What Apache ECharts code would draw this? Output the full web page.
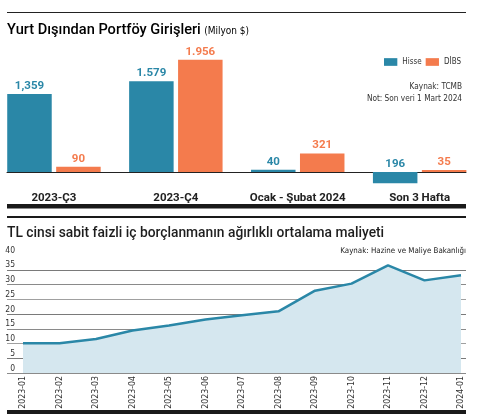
<!DOCTYPE html>
<html>
<head>
<meta charset="utf-8">
<script src="https://cdn.jsdelivr.net/npm/echarts@6/dist/echarts.min.js"></script>
<style>
html,body{margin:0;padding:0;background:#fff;}
#c{width:480px;height:420px;}
</style>
</head>
<body>
<div id="c"></div>
<script>
// ---- Data: top chart ----
var barCategories = ['2023-Ç3', '2023-Ç4', 'Ocak - Şubat 2024', 'Son 3 Hafta'];
var hisseValues = [1359, 1579, 40, -196];
var dibsValues = [90, 1956, 321, 35];
var hisseLabels = ['1,359', '1.579', '40', '196'];
var dibsLabels = ['90', '1.956', '321', '35'];
// ---- Data: bottom chart ----
var months = ['2023-01','2023-02','2023-03','2023-04','2023-05','2023-06','2023-07','2023-08','2023-09','2023-10','2023-11','2023-12','2024-01'];
var costValues = [10.1, 10.1, 11.5, 14.4, 16.1, 18.1, 19.6, 20.9, 27.9, 30.3, 36.5, 31.4, 33.1];
var costTicks = [0, 5, 10, 15, 20, 25, 30, 35, 40];

var BLUE = '#2a87a7';
var ORANGE = '#f47b4d';
var COND = '"DejaVu Sans Condensed", sans-serif';
var BOLD = 'Roboto, "DejaVu Sans Condensed", sans-serif';

var chart = echarts.init(document.getElementById('c'), null, {renderer: 'canvas'});

var option = {
  backgroundColor: '#ffffff',
  textStyle: {fontFamily: COND},
  animation: false,
  legend: {
    data: ['Hisse', 'DİBS'],
    right: 14,
    top: 53,
    itemWidth: 13.3,
    itemHeight: 7.7,
    itemGap: 4,
    icon: 'rect',
    textStyle: {fontFamily: COND, fontSize: 8, color: '#333'}
  },
  grid: [
    {left: -7, width: 487.6, top: 45.7, height: 143.5, outerBoundsMode: 'none'},
    {left: 7, right: 14, top: 45.7, height: 143.5, outerBoundsMode: 'none'},
    {left: 23, right: 19, top: 255, height: 118, outerBoundsMode: 'none'},
    {left: 7, right: 14, top: 255, height: 118, outerBoundsMode: 'none'}
  ],
  xAxis: [
    {
      type: 'category', gridIndex: 0, data: barCategories,
      axisLine: {show: false}, axisTick: {show: false},
      axisLabel: {fontFamily: BOLD, fontWeight: 'bold', fontSize: 11.5, color: '#222', margin: 3, interval: 0}
    },
    {
      type: 'value', gridIndex: 1, min: 0, max: 1,
      axisLine: {show: true, onZero: true, lineStyle: {color: '#222', width: 1}},
      axisTick: {show: false}, axisLabel: {show: false}, splitLine: {show: false}
    },
    {
      type: 'category', gridIndex: 2, data: months, boundaryGap: false,
      axisLine: {show: false}, axisTick: {show: false},
      axisLabel: {fontFamily: COND, fontSize: 8.7, color: '#333', rotate: 90, margin: 3, interval: 0}
    },
    {
      type: 'value', gridIndex: 3, min: 0, max: 1, show: false
    }
  ],
  yAxis: [
    {type: 'value', gridIndex: 0, min: -300, max: 2200, show: false},
    {type: 'value', gridIndex: 1, min: -300, max: 2200, show: false},
    {type: 'value', gridIndex: 2, min: 0, max: 40, interval: 5, show: false},
    {
      type: 'value', gridIndex: 3, min: costTicks[0], max: costTicks[costTicks.length - 1], interval: 5,
      axisLine: {show: false}, axisTick: {show: false},
      splitLine: {show: true, showMaxLine: false, lineStyle: {color: ['#8a8a8a', '#7a7a7a', '#a0a0a0'], width: 1}},
      axisLabel: {inside: true, align: 'right', verticalAlign: 'bottom', margin: 8, fontFamily: COND, fontSize: 8.5, color: '#333'}
    }
  ],
  series: [
    {
      name: 'Hisse', type: 'bar', xAxisIndex: 0, yAxisIndex: 0,
      data: hisseValues, barWidth: 44.5, barGap: '10%',
      itemStyle: {color: BLUE},
      label: {
        show: true, position: 'top', distance: 2,
        fontFamily: BOLD, fontWeight: 'bold', fontSize: 11.5, color: BLUE,
        formatter: function (p) { return hisseLabels[p.dataIndex]; }
      }
    },
    {
      name: 'DİBS', type: 'bar', xAxisIndex: 0, yAxisIndex: 0,
      data: dibsValues, barWidth: 44.5, barGap: '10%',
      itemStyle: {color: ORANGE},
      label: {
        show: true, position: 'top', distance: 2,
        fontFamily: BOLD, fontWeight: 'bold', fontSize: 11.5, color: ORANGE,
        formatter: function (p) { return dibsLabels[p.dataIndex]; }
      }
    },
    {
      name: 'Maliyet', type: 'line', xAxisIndex: 2, yAxisIndex: 2,
      data: costValues, symbol: 'none', smooth: false,
      lineStyle: {color: BLUE, width: 2.5},
      areaStyle: {color: '#d5e7ef', opacity: 1},
      z: 3
    }
  ],
  graphic: [
    {type: 'rect', shape: {x: 7, y: 12, width: 459, height: 1}, style: {fill: '#222'}, silent: true},
    {type: 'text', left: 7, top: 22.5, style: {
      text: '{a|Yurt Dışından Portföy Girişleri} {b|(Milyon $)}',
      rich: {
        a: {fontFamily: BOLD, fontSize: 14.6, fontWeight: 500, color: '#1e1e1e'},
        b: {fontFamily: COND, fontSize: 10, color: '#333', padding: [3, 0, 0, 0]}
      }
    }},
    {type: 'text', right: 18, top: 83, style: {text: 'Kaynak: TCMB', fontFamily: COND, fontSize: 8.2, fill: '#333', align: 'right'}},
    {type: 'text', right: 18, top: 94.5, style: {text: 'Not: Son veri 1 Mart 2024', fontFamily: COND, fontSize: 8.2, fill: '#333', align: 'right'}},
    {type: 'rect', shape: {x: 7, y: 204, width: 459, height: 4.5}, style: {fill: '#1a1a1a'}, silent: true},
    {type: 'rect', shape: {x: 7, y: 216, width: 459, height: 2}, style: {fill: '#1a1a1a'}, silent: true},
    {type: 'text', left: 7, top: 226.5, style: {
      text: 'TL cinsi sabit faizli iç borçlanmanın ağırlıklı ortalama maliyeti',
      fontFamily: BOLD, fontSize: 13.8, fontWeight: 500, fill: '#1e1e1e'
    }},
    {type: 'text', right: 14, top: 246.5, style: {text: 'Kaynak: Hazine ve Maliye Bakanlığı', fontFamily: COND, fontSize: 7.9, fill: '#222', align: 'right'}},
    {type: 'rect', shape: {x: 7, y: 410, width: 459, height: 4}, style: {fill: '#1a1a1a'}, silent: true}
  ]
};
chart.setOption(option);
</script>
</body>
</html>
